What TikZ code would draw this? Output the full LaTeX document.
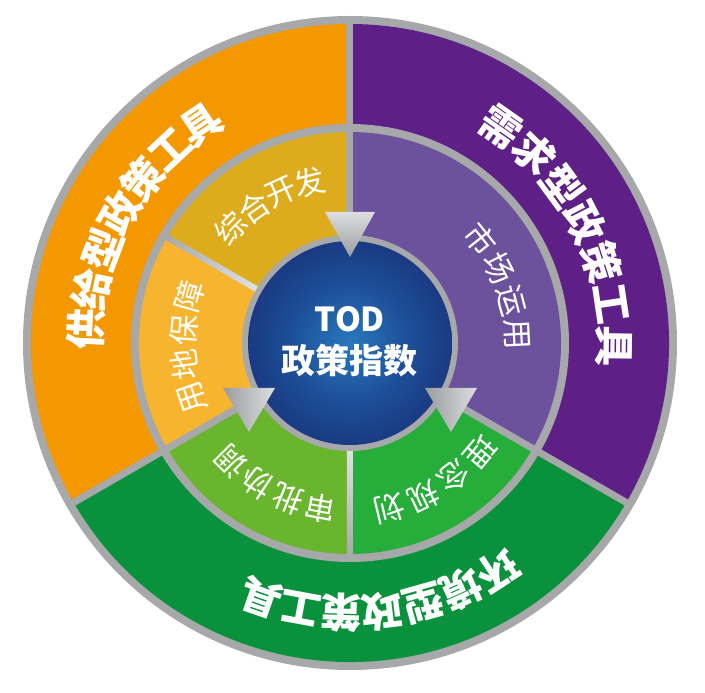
\documentclass[tikz,border=0pt]{standalone}
\usepackage{fontspec}
\newfontfamily\cjk{Noto Sans CJK SC}
\definecolor{ringgray}{HTML}{A6A8AA}
\definecolor{lightdiv}{HTML}{E4E6E7}
\definecolor{outorange}{HTML}{F39800}
\definecolor{outpurple}{HTML}{5E1F87}
\definecolor{outgreen}{HTML}{0A913B}
\definecolor{midgold}{HTML}{DDAC1C}
\definecolor{midorange}{HTML}{F7B52F}
\definecolor{midlav}{HTML}{6C519D}
\definecolor{midygreen}{HTML}{69B62E}
\definecolor{midgreen}{HTML}{27AD3A}
\definecolor{ballc}{HTML}{2A78BE}
\definecolor{ballm}{HTML}{1C4E97}
\definecolor{balln}{HTML}{17276E}
\definecolor{balle}{HTML}{161E5C}
\definecolor{arrdark}{HTML}{9A9C9E}
\definecolor{arrlight}{HTML}{DCDEDF}
\pgfdeclareradialshading{navyball}{\pgfpoint{0bp}{0bp}}{color(0bp)=(ballc); color(15bp)=(ballm); color(35bp)=(balln); color(50bp)=(balle)}
\tikzset{
  lbl/.style={text=white, inner sep=0pt, anchor=center},
  grayline/.style={line width=7pt, ringgray},
}
\newcommand\ringtext[6]{%
  \foreach \ch [count=\k from 0] in {#6} {%
    \pgfmathsetmacro\ang{#3-\k*#4}%
    \node[lbl, font=#5, rotate=\ang-90] (#1\k) at (\ang:#2) {\ch};
  }%
}
\begin{document}
\begin{tikzpicture}[x=1pt, y=1pt]
\useasboundingbox (-350,-350) rectangle (355,343);
% outer gray disk
\fill[ringgray] (0,0) circle (327);
% outer sectors
\fill[outorange] (0,0) -- (90:319) arc[start angle=90, end angle=210, radius=319] -- cycle;
\fill[outgreen] (0,0) -- (210:319) arc[start angle=210, end angle=330, radius=319] -- cycle;
\fill[outpurple] (0,0) -- (-30:319) arc[start angle=-30, end angle=90, radius=319] -- cycle;
\foreach \a in {90,210,330} \draw[grayline] (0,0) -- (\a:322);
% middle ring
\fill[ringgray] (0,0) circle (219);
\fill[midgold] (0,0) -- (90:211) arc[start angle=90, end angle=150, radius=211] -- cycle;
\fill[midorange] (0,0) -- (150:211) arc[start angle=150, end angle=210, radius=211] -- cycle;
\fill[midygreen] (0,0) -- (210:211) arc[start angle=210, end angle=270, radius=211] -- cycle;
\fill[midgreen] (0,0) -- (270:211) arc[start angle=270, end angle=330, radius=211] -- cycle;
\fill[midlav] (0,0) -- (330:211) arc[start angle=330, end angle=450, radius=211] -- cycle;
\foreach \a in {90,210,330} \draw[grayline] (0,0) -- (\a:215);
\begin{scope}[transform canvas={rotate=60}]
  \shade[top color=ringgray, bottom color=lightdiv] (-3,100) rectangle (3,213);
\end{scope}
\begin{scope}[transform canvas={rotate=180}]
  \shade[top color=ringgray, bottom color=lightdiv] (-3,100) rectangle (3,213);
\end{scope}
% center
\fill[ringgray] (0,0) circle (108);
\shade[shading=navyball] (0,0) circle (102);
% arrows
\shade[top color=arrlight, bottom color=arrdark] (-25,131) -- (25,131) -- (0,86) -- cycle;
\shade[left color=arrdark, right color=arrlight] (-127,-45) -- (-75,-45) -- (-101,-89) -- cycle;
\shade[left color=arrdark, right color=arrlight] (75,-45) -- (127,-45) -- (101,-89) -- cycle;
% center text
\node[lbl, font=\cjk\bfseries\fontsize{33}{33}\selectfont] (tod) at (0,24) {TOD};
\node[lbl, font=\cjk\bfseries\fontsize{34}{34}\selectfont] (idx) at (0,-18) {政策指数};
% outer labels
\ringtext{sup}{264}{177}{8.8}{\cjk\bfseries\fontsize{41}{41}\selectfont}{供,给,型,政,策,工,具}
\ringtext{dem}{264}{55}{9.3}{\cjk\bfseries\fontsize{41}{41}\selectfont}{需,求,型,政,策,工,具}
\ringtext{env}{270}{303}{8.7}{\cjk\bfseries\fontsize{41}{41}\selectfont}{环,境,型,政,策,工,具}
% middle labels
\ringtext{zh}{166}{136}{10.7}{\cjk\fontsize{31}{31}\selectfont}{综,合,开,发}
\ringtext{yd}{167}{199}{11.7}{\cjk\fontsize{31}{31}\selectfont}{用,地,保,障}
\ringtext{sc}{167}{38.6}{11.9}{\cjk\fontsize{31}{31}\selectfont}{市,场,运,用}
\ringtext{sp}{168}{259.6}{11.5}{\cjk\fontsize{31}{31}\selectfont}{审,批,协,调}
\ringtext{ln}{170}{320}{12.2}{\cjk\fontsize{31}{31}\selectfont}{理,念,规,划}
\end{tikzpicture}
\end{document}
